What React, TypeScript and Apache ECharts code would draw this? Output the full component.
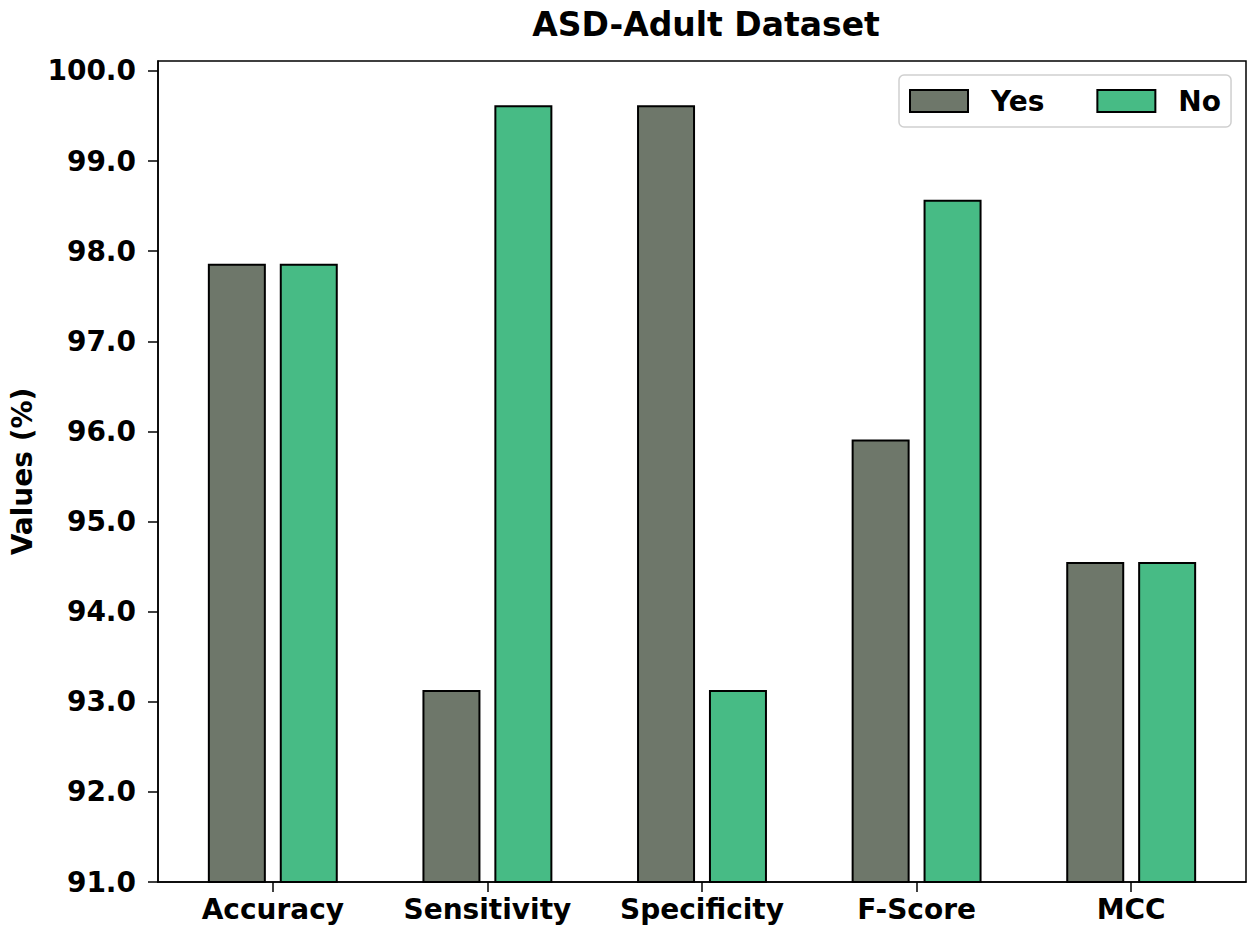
import React, { useEffect, useRef } from "react";
import * as echarts from "echarts";

const categories = ["Accuracy", "Sensitivity", "Specificity", "F-Score", "MCC"];
const yesValues = [97.86, 93.13, 99.62, 95.91, 94.55];
const noValues = [97.86, 99.62, 93.13, 98.57, 94.55];
const yTicks = [91, 92, 93, 94, 95, 96, 97, 98, 99, 100];
const xTicks = [0, 1, 2, 3, 4];

const FONT = "DejaVu Sans";

export default function App() {
  const ref = useRef<HTMLDivElement>(null);
  useEffect(() => {
    document.body.style.margin = "0";
    const chart = echarts.init(ref.current!, null, { renderer: "svg" });
    chart.setOption({
      animation: false,
      backgroundColor: "#ffffff",
      title: {
        text: "ASD-Adult Dataset",
        left: 701,
        top: 3,
        textAlign: "center",
        textStyle: { fontFamily: FONT, fontWeight: "bold", fontSize: 33, color: "#000" },
      },
      legend: {
        left: 899,
        top: 75,
        orient: "horizontal",
        icon: "rect",
        itemWidth: 58,
        itemHeight: 22,
        itemGap: 52,
        padding: [12, 10, 12, 10],
        borderColor: "#cfcfcf",
        borderWidth: 1.5,
        borderRadius: 5,
        textStyle: {
          fontFamily: FONT,
          fontWeight: "bold",
          fontSize: 28,
          color: "#000",
          padding: [0, 0, 0, 18],
        },
        data: ["Yes", "No"],
      },
      grid: {
        left: 156,
        right: 9,
        top: 61,
        bottom: 53,
        show: true,
        borderColor: "#000",
        borderWidth: 1.5,
        containLabel: false,
      },
      xAxis: {
        type: "value",
        min: -0.535,
        max: 4.535,
        splitLine: { show: false },
        axisLine: { show: true, onZero: false, lineStyle: { color: "#000", width: 1.5 } },
        axisTick: {
          show: true,
          length: 10,
          lineStyle: { color: "#000", width: 1.5 },
          customValues: xTicks,
        },
        axisLabel: {
          customValues: xTicks,
          formatter: (v: number) => categories[Math.round(v)] ?? "",
          margin: 13,
          fontFamily: FONT,
          fontWeight: "bold",
          fontSize: 28,
          color: "#000",
        },
      },
      yAxis: {
        type: "value",
        min: 91,
        max: 100.11,
        name: "Values (%)",
        nameLocation: "middle",
        nameGap: 122,
        nameRotate: 90,
        nameTextStyle: { fontFamily: FONT, fontWeight: "bold", fontSize: 28, color: "#000" },
        splitLine: { show: false },
        axisLine: { show: true, onZero: false, lineStyle: { color: "#000", width: 1.5 } },
        axisTick: {
          show: true,
          length: 10,
          lineStyle: { color: "#000", width: 1.5 },
          customValues: yTicks,
        },
        axisLabel: {
          customValues: yTicks,
          formatter: (v: number) => v.toFixed(1),
          margin: 22,
          fontFamily: FONT,
          fontWeight: "bold",
          fontSize: 28,
          color: "#000",
        },
      },
      series: [
        {
          name: "Yes",
          type: "bar",
          data: yesValues.map((v, i) => [i, v]),
          barWidth: 58,
          barGap: "24%",
          itemStyle: { color: "#6e776a", borderColor: "#000", borderWidth: 2 },
        },
        {
          name: "No",
          type: "bar",
          data: noValues.map((v, i) => [i, v]),
          barWidth: 58,
          barGap: "24%",
          itemStyle: { color: "#47bb85", borderColor: "#000", borderWidth: 2 },
        },
      ],
    });
    return () => chart.dispose();
  }, []);
  return <div ref={ref} style={{ width: 1255, height: 935 }} />;
}
